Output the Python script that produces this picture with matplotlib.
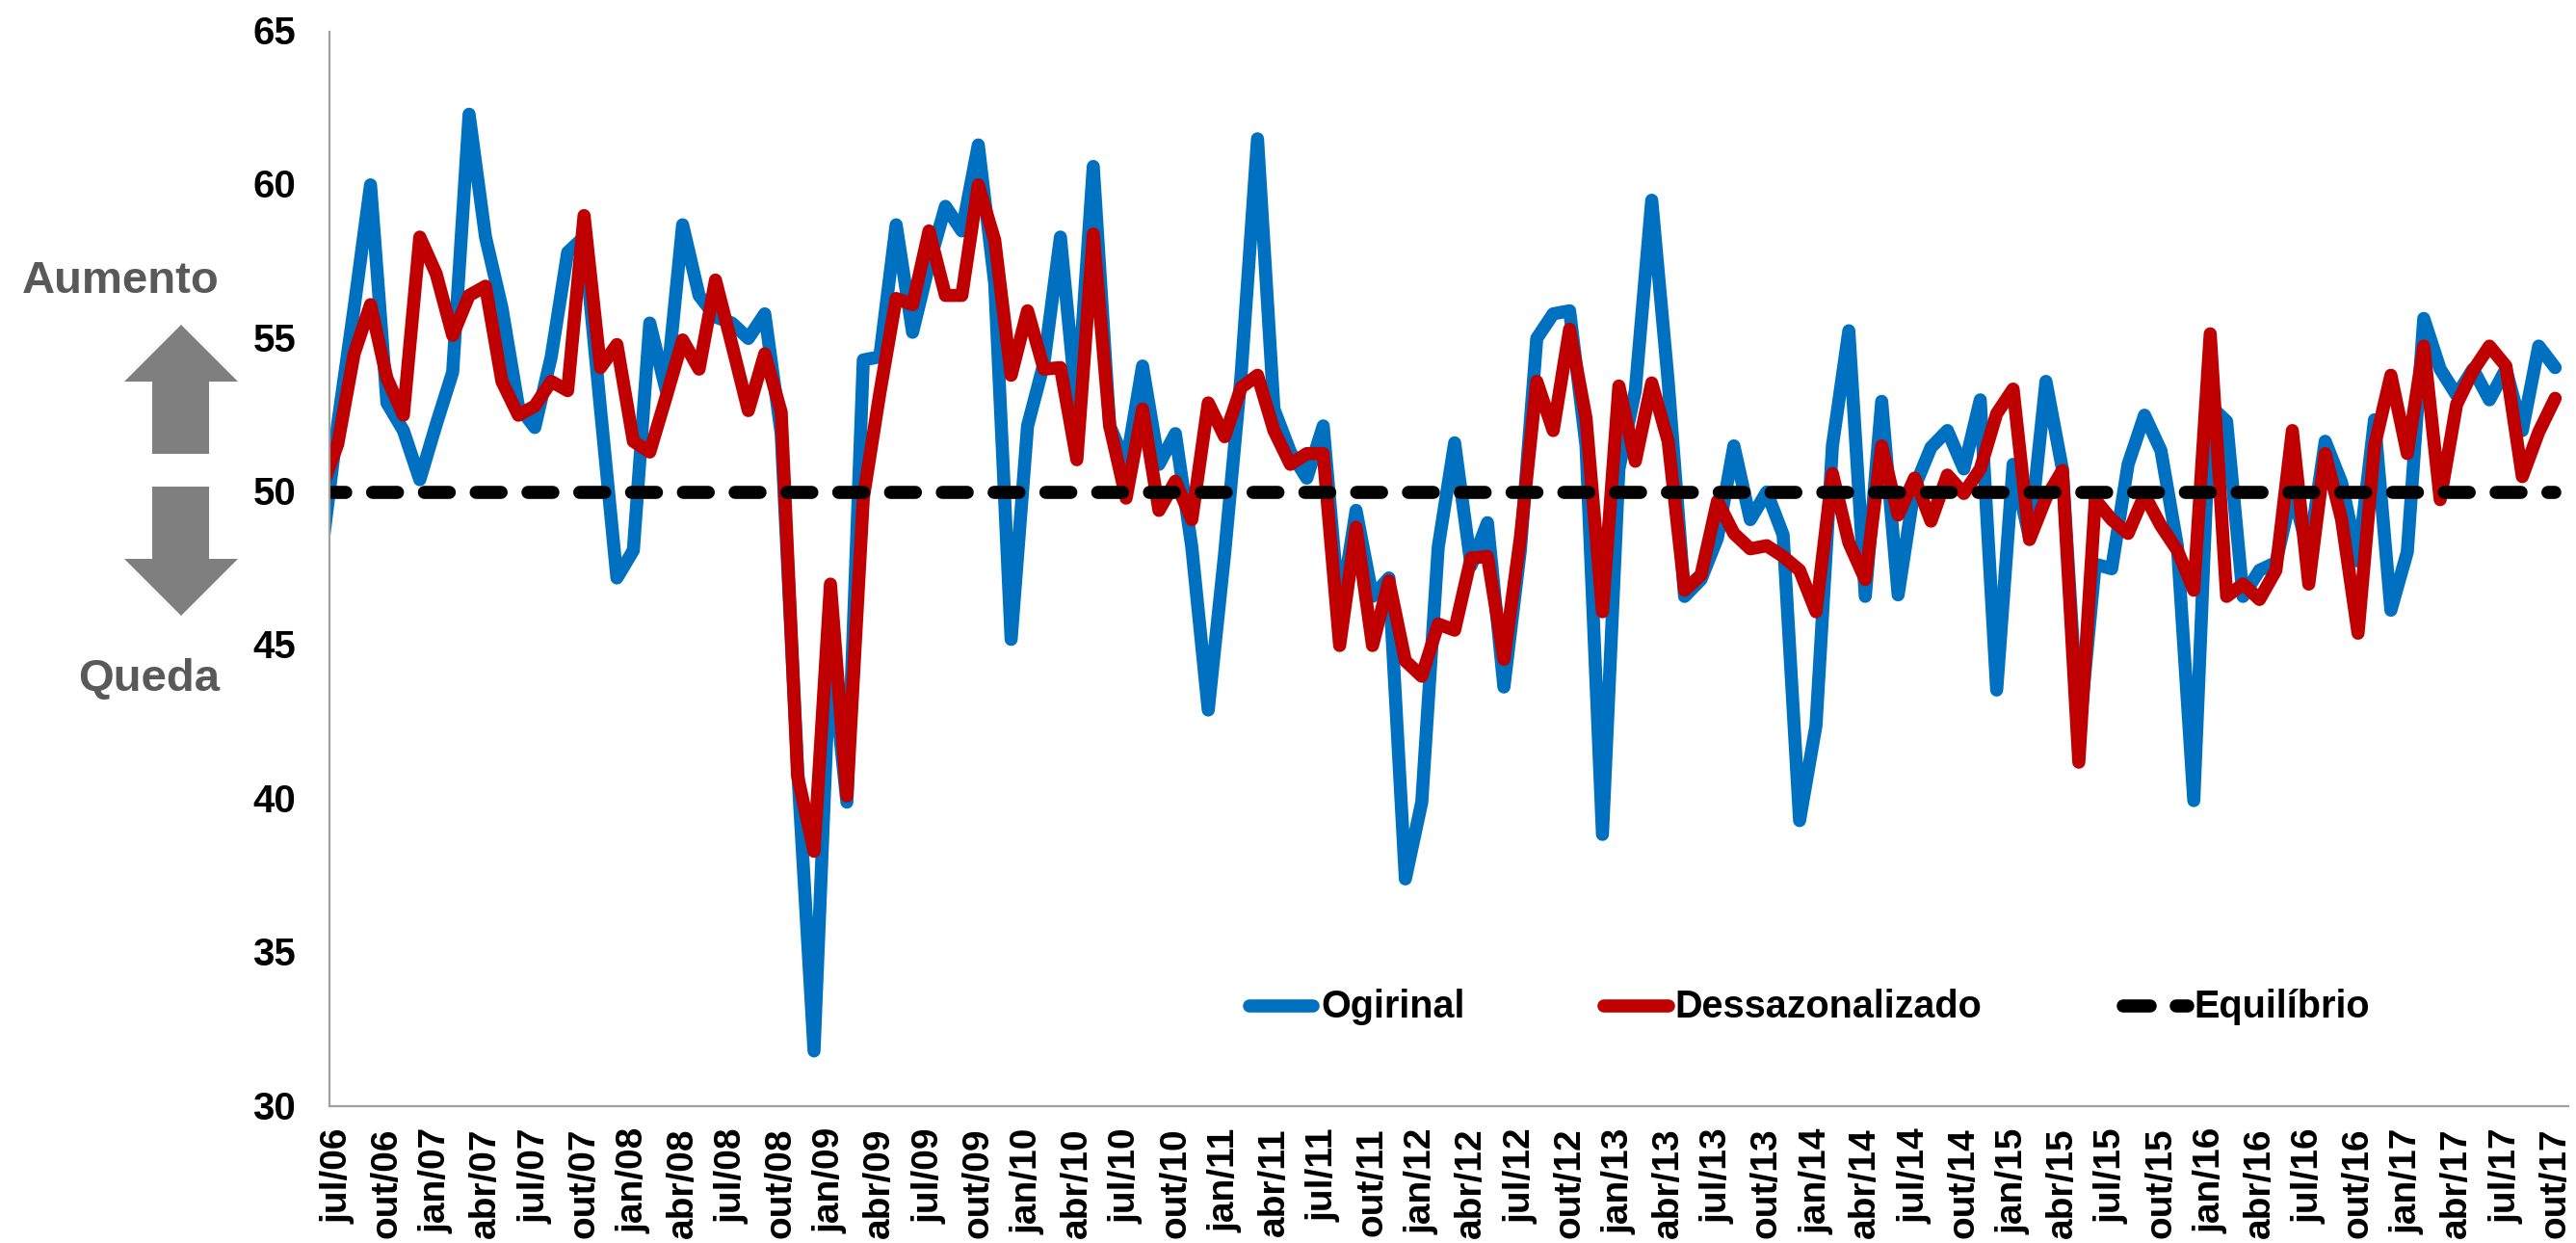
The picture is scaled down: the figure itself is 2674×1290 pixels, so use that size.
import matplotlib
matplotlib.use('Agg')
import matplotlib.pyplot as plt
from matplotlib.lines import Line2D
from matplotlib.patches import Polygon
from matplotlib.transforms import ScaledTranslation

# ─── dados ──────────────────────────────────────────────────────────
# the first value of each series is jun/06, it gets clipped by the y axis
ORIGINAL = [
    47.9,
    52.2, 56.0, 60.0, 52.9, 52.0, 50.4, 52.2, 53.9, 62.3, 58.3,
    56.0, 52.8, 52.1, 54.4, 57.8, 58.3, 52.7, 47.2, 48.1, 55.5,
    53.3, 58.7, 56.4, 55.7, 55.5, 55.0, 55.8, 51.9, 41.0, 31.8,
    45.0, 39.9, 54.3, 54.4, 58.7, 55.2, 57.4, 59.3, 58.5, 61.3,
    56.8, 45.2, 52.15, 54.2, 58.3, 52.7, 60.6, 52.15, 50.9, 54.1,
    50.9, 51.9, 48.2, 42.9, 48.0, 53.8, 61.5, 52.7, 51.3, 50.45,
    52.15, 46.0, 49.4, 46.6, 47.2, 37.4, 39.9, 48.2, 51.6, 47.6,
    49.0, 43.65, 48.1, 55.0, 55.8, 55.9, 51.5, 38.85, 50.75, 53.3,
    59.5, 53.6, 46.6, 47.15, 48.5, 51.5, 49.1, 50.0, 48.6, 39.3,
    42.4, 51.5, 55.25, 46.6, 52.95, 46.65, 50.15, 51.45, 52.0, 50.75,
    53.0, 43.55, 50.9, 48.5, 53.6, 50.75, 42.0, 47.65, 47.5, 50.9,
    52.5, 51.35, 48.25, 39.95, 52.8, 52.3, 46.6, 47.45, 47.7, 50.05,
    48.0, 51.65, 50.3, 47.75, 52.35, 46.15, 48.05, 55.65, 54.0, 53.15,
    54.0, 53.0, 54.0, 52.0, 54.75, 54.05,
]
DESSAZONALIZADO = [
    50.1,
    51.55, 54.5, 56.1, 53.7, 52.5, 58.3, 57.1, 55.1, 56.4, 56.7,
    53.6, 52.5, 52.8, 53.6, 53.3, 59.0, 54.05, 54.8, 51.65, 51.3,
    53.1, 54.95, 54.0, 56.9, 54.8, 52.65, 54.5, 52.6, 40.75, 38.3,
    47.0, 40.1, 49.8, 53.2, 56.3, 56.1, 58.5, 56.4, 56.4, 60.0,
    58.2, 53.8, 55.9, 54.0, 54.05, 51.05, 58.4, 52.15, 49.8, 52.7,
    49.4, 50.35, 49.1, 52.9, 51.8, 53.4, 53.8, 52.0, 50.9, 51.25,
    51.25, 45.0, 48.85, 45.0, 47.1, 44.5, 44.0, 45.7, 45.5, 47.85,
    47.9, 44.55, 48.5, 53.6, 52.0, 55.3, 52.4, 46.1, 53.45, 51.0,
    53.55, 51.65, 46.8, 47.3, 49.7, 48.65, 48.15, 48.25, 47.9, 47.45,
    46.1, 50.6, 48.35, 47.15, 51.5, 49.25, 50.45, 49.05, 50.55, 49.95,
    50.75, 52.55, 53.35, 48.45, 49.8, 50.7, 41.2, 49.75, 49.1, 48.65,
    49.9, 48.9, 48.1, 46.8, 55.15, 46.6, 47.0, 46.5, 47.45, 52.0,
    47.0, 51.25, 49.1, 45.4, 51.5, 53.8, 51.25, 54.75, 49.75, 52.85,
    53.95, 54.75, 54.1, 50.5, 51.95, 53.05,
]
EQUILIBRIO = [50] * len(ORIGINAL)
TICK_LABELS = [
    'jul/06', 'out/06', 'jan/07', 'abr/07', 'jul/07', 'out/07', 'jan/08', 'abr/08',
    'jul/08', 'out/08', 'jan/09', 'abr/09', 'jul/09', 'out/09', 'jan/10', 'abr/10',
    'jul/10', 'out/10', 'jan/11', 'abr/11', 'jul/11', 'out/11', 'jan/12', 'abr/12',
    'jul/12', 'out/12', 'jan/13', 'abr/13', 'jul/13', 'out/13', 'jan/14', 'abr/14',
    'jul/14', 'out/14', 'jan/15', 'abr/15', 'jul/15', 'out/15', 'jan/16', 'abr/16',
    'jul/16', 'out/16', 'jan/17', 'abr/17', 'jul/17', 'out/17',
]
Y_TICKS = [30, 35, 40, 45, 50, 55, 60, 65]

# ─── estilo ─────────────────────────────────────────────────────────
W, H = 2674, 1290
BLUE = '#0070c0'
RED = '#c00000'
GREY = '#7f7f7f'
AXIS = '#a0a0a0'
LW = 9.8
DASH = (0, (1.9, 2.05))
plt.rcParams['font.family'] = ['Liberation Sans', 'DejaVu Sans']
plt.rcParams['font.weight'] = 'bold'


def fx(x):
    return x / W


def fy(y):
    return 1 - y / H


fig = plt.figure(figsize=(W / 100, H / 100), dpi=100)
ax = fig.add_axes([fx(342), fy(1148), fx(2666 - 342), (1148 - 32.5) / H])

# ─── series ─────────────────────────────────────────────────────────
xs = list(range(-1, len(ORIGINAL) - 1))
ax.plot(xs, ORIGINAL, color=BLUE, lw=LW, solid_joinstyle='round', solid_capstyle='round')
ax.plot(xs, DESSAZONALIZADO, color=RED, lw=LW, solid_joinstyle='round', solid_capstyle='round')
ax.plot(xs, EQUILIBRIO, color='black', lw=LW, linestyle=DASH, dash_capstyle='round')

ax.set_xlim(-0.5, 135.8)
ax.set_ylim(30, 65)
ax.set_yticks(Y_TICKS)
ax.set_xticks(range(0, 3 * len(TICK_LABELS), 3))
ax.set_xticklabels(TICK_LABELS, rotation=90, ha='center', va='top')
ax.tick_params(axis='y', length=0, pad=25, labelsize=29)
ax.tick_params(axis='x', length=0, pad=16, labelsize=28)
# numbers sit a little higher than the tick centre
lift = ScaledTranslation(0, 0.015, fig.dpi_scale_trans)
for lbl in ax.get_yticklabels():
    lbl.set_transform(lbl.get_transform() + lift)
for side in ('top', 'right'):
    ax.spines[side].set_visible(False)
for side in ('left', 'bottom'):
    ax.spines[side].set_color(AXIS)
    ax.spines[side].set_linewidth(1.6)

# ─── setas e textos laterais ────────────────────────────────────────
up = [(188, 337), (247, 396), (217, 396), (217, 471), (158, 471), (158, 396), (129, 396)]
down = [(188, 639), (247, 580), (217, 580), (217, 505), (158, 505), (158, 580), (129, 580)]
for pts in (up, down):
    fig.add_artist(Polygon([(fx(x), fy(y)) for x, y in pts], closed=True,
                           facecolor=GREY, edgecolor='none', transform=fig.transFigure))
fig.text(fx(228), fy(304), 'Aumento', color='#595959', fontsize=34, ha='right', va='baseline')
fig.text(fx(228), fy(717), 'Queda', color='#595959', fontsize=34, ha='right', va='baseline')

# ─── legenda ────────────────────────────────────────────────────────
LEG_Y = 1044
LEG_BASE = 1056
fig.add_artist(Line2D([fx(1297), fx(1363)], [fy(LEG_Y)] * 2, color=BLUE, lw=LW,
                      solid_capstyle='round'))
fig.text(fx(1371), fy(LEG_BASE), 'Ogirinal', fontsize=28.5, va='baseline')
fig.add_artist(Line2D([fx(1665), fx(1732)], [fy(LEG_Y)] * 2, color=RED, lw=LW,
                      solid_capstyle='round'))
fig.text(fx(1738), fy(LEG_BASE), 'Dessazonalizado', fontsize=28.5, va='baseline')
fig.add_artist(Line2D([fx(2204), fx(2232)], [fy(LEG_Y)] * 2, color='black', lw=LW,
                      solid_capstyle='round'))
fig.add_artist(Line2D([fx(2259), fx(2271)], [fy(LEG_Y)] * 2, color='black', lw=LW,
                      solid_capstyle='round'))
fig.text(fx(2277), fy(LEG_BASE), 'Equilíbrio', fontsize=28.5, va='baseline')

fig.savefig('out.png', dpi=100, facecolor='white')
